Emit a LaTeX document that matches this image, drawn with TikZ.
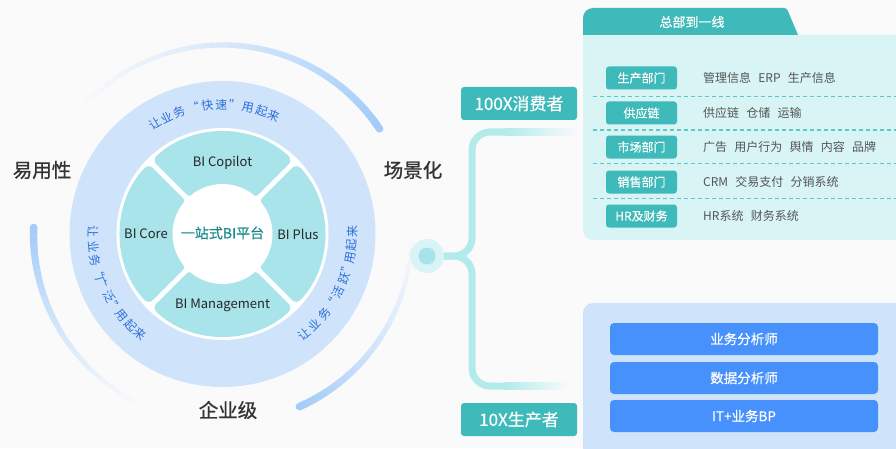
\documentclass[tikz,border=0pt]{standalone}
\usepackage{fontspec}
\setmainfont{Noto Sans CJK SC}
\newfontfamily\medfont[FakeBold=0.9]{Noto Sans CJK SC}
\newfontfamily\semifont[FakeBold=0.5]{Noto Sans CJK SC}
\definecolor{bg}{HTML}{FAFAFB}
\definecolor{ringblue}{HTML}{CFE4FB}
\definecolor{segcol}{HTML}{A8E4EA}
\definecolor{arcblue}{HTML}{A3CCF9}
\definecolor{txtblue}{HTML}{2B6FDB}
\definecolor{centtxt}{HTML}{17898A}
\definecolor{darktxt}{HTML}{333333}
\definecolor{tealbox}{HTML}{3DBAB9}
\definecolor{bodycyan}{HTML}{D8F4F5}
\definecolor{btnblue}{HTML}{4791FC}
\definecolor{dashcol}{HTML}{5CC9C9}
\definecolor{desctxt}{HTML}{555555}
\definecolor{brk}{HTML}{B3EBEB}
\definecolor{halo}{HTML}{D9F4F6}
\definecolor{dotcol}{HTML}{A9E3EA}
\newcommand\myarctext[3]{%
  \foreach \ch/\an in {#3}{%
    \node[curv, rotate=\an#2] at (\an:#1pt) {\ch};}}
\begin{document}
\begin{tikzpicture}[x=1pt,y=1pt,
  curv/.style={font=\fontsize{12}{12}\selectfont, text=txtblue, inner sep=0pt, anchor=center, text height=10pt, text depth=1.5pt},
  biglab/.style={font=\fontsize{19.5}{20}\selectfont\medfont, text=darktxt, inner sep=0pt},
  seglab/.style={font=\fontsize{13}{14}\selectfont, text=black!85, inner sep=0pt},
  tealbtn/.style={fill=tealbox, text=white, rounded corners=3pt, inner sep=0pt, minimum width=116pt, minimum height=33pt, font=\fontsize{17}{17}\selectfont\semifont},
  rowlab/.style={fill=tealbox, text=white, rounded corners=3pt, inner sep=0pt, minimum width=71pt, minimum height=23pt, font=\fontsize{12}{12}\selectfont\semifont},
  desc/.style={text=desctxt, inner sep=0pt, anchor=west, font=\fontsize{12}{12}\selectfont},
  bluebtn/.style={fill=btnblue, text=white, rounded corners=4pt, inner sep=0pt, minimum width=268pt, minimum height=32pt, font=\fontsize{13.5}{14}\selectfont\semifont},
  sep/.style={dashcol, line width=1pt, dash pattern=on 4pt off 3pt}
]
\useasboundingbox (0,0) rectangle (896,448);
\fill[bg] (0,0) rectangle (896,448);
\coordinate (C) at (222.5,214);

% ---- fading outer arcs ----
\foreach \i in {0,...,39}{
  \pgfmathsetmacro\aa{148-\i*2.85}
  \pgfmathsetmacro\ab{\aa-3.1}
  \pgfmathsetmacro\p{100*(\i/39)^1.4}
  \pgfmathsetmacro\lw{3+4.5*\i/39}
  \draw[line width=\lw pt, arcblue!\p!bg] (C) ++(\aa:189pt) arc[start angle=\aa, end angle=\ab, radius=189pt];
}
\fill[arcblue] (C) ++(33.8:189pt) circle[radius=3.75pt];
\foreach \i in {0,...,39}{
  \pgfmathsetmacro\aa{178+\i*1.8}
  \pgfmathsetmacro\ab{\aa+2.1}
  \pgfmathsetmacro\p{100*(1-\i/39)^1.4}
  \pgfmathsetmacro\lw{7.5-4.5*\i/39}
  \draw[line width=\lw pt, arcblue!\p!bg] (C) ++(\aa:189pt) arc[start angle=\aa, end angle=\ab, radius=189pt];
}
\fill[arcblue] (C) ++(178:189pt) circle[radius=3.75pt];
\foreach \i in {0,...,39}{
  \pgfmathsetmacro\aa{-66+\i*1.75}
  \pgfmathsetmacro\ab{\aa+2.05}
  \pgfmathsetmacro\p{100*(1-\i/39)^1.4}
  \pgfmathsetmacro\lw{7.5-4.5*\i/39}
  \draw[line width=\lw pt, arcblue!\p!bg] (C) ++(\aa:189pt) arc[start angle=\aa, end angle=\ab, radius=189pt];
}
\fill[arcblue] (C) ++(-66:189pt) circle[radius=3.75pt];

% ---- rings ----
\fill[ringblue] (C) circle[radius=153pt];
\fill[white] (C) circle[radius=106pt];
\begin{scope}[shift={(C)}]
\foreach \c in {0,90,180,270}{
  \pgfmathsetmacro\oa{\c+45-1.4}
  \pgfmathsetmacro\ob{\c-45+1.4}
  \pgfmathsetmacro\ia{\c-45+3}
  \pgfmathsetmacro\ib{\c+45-3}
  \fill[segcol, rounded corners=6pt] (\oa:102pt) arc[start angle=\oa, end angle=\ob, radius=102pt] -- (\ia:48pt) arc[start angle=\ia, end angle=\ib, radius=48pt] -- cycle;
}
\fill[white] (0,0) circle[radius=50pt];
\myarctext{129}{-90}{让/121.6, 业/115.6, 务/109.7, “/103, 快/96.8, 速/90.5, ”/84.5, 用/78.7, 起/72.4, 来/66.4}
\myarctext{130}{+90}{让/179.1, 业/185.6, 务/191.6, “/197, 广/202, 泛/209, ”/214.5, 用/218.8, 起/224.8, 来/230.5}
\myarctext{130}{+90}{让/-50.9, 业/-44.7, 务/-38.2, “/-32.6, 活/-26.8, 跃/-19.8, ”/-14.5, 用/-10.5, 起/-4.8, 来/1.0}
\end{scope}

\node[seglab] (copilot) at (222.5,285) {BI Copilot};
\node[seglab] (core) at (146,214) {BI Core};
\node[seglab] (plus) at (298,214) {BI Plus};
\node[seglab] (mgmt) at (222.5,143) {BI Management};
\node[font=\fontsize{14}{14}\selectfont\semifont, text=centtxt, inner sep=0pt] (center) at (222.5,215) {一站式BI平台};

\node[biglab] (easy) at (42,278) {易用性};
\node[biglab] (scene) at (413,278) {场景化};
\node[biglab] (ent) at (228,38) {企业级};

% ---- bracket ----
\coordinate (j) at (440,192);
\coordinate (up) at (506,316);
\coordinate (dn) at (506,62);
\draw[brk, line width=7pt, rounded corners=18pt] (j) -- (472,192) -- (472,316) -- (up);
\draw[brk, line width=7pt, rounded corners=18pt] (j) -- (472,192) -- (472,62) -- (dn);
\shade[left color=brk, right color=bg] (505,312.5) rectangle (578,319.5);
\shade[left color=brk, right color=bg] (505,58.5) rectangle (568,65.5);
\node[circle, fill=halo, minimum size=34pt, inner sep=0pt] (hub) at (427,192) {};
\fill[dotcol] (hub.center) circle[radius=8.5pt];

\node[tealbtn] (consumer) at (519,344.5) {100X消费者};
\node[tealbtn] (producer) at (519,28.5) {10X生产者};

% ---- top-right panel ----
\fill[bodycyan] (583,413) -- (900,413) -- (900,208) -- (593,208) arc[start angle=270, end angle=180, radius=10pt] -- cycle;
\fill[tealbox] (583,413) -- (583,430) arc[start angle=180, end angle=90, radius=10pt] -- (784,440) arc[start angle=90, end angle=21, radius=4pt] -- (798,413) -- cycle;
\node[font=\fontsize{13}{13}\selectfont\semifont, text=white, inner sep=0pt] (tab) at (692,426) {总部到一线};

\node[rowlab] (r1) at (641.5,370) {生产部门};
\node[rowlab] (r2) at (641.5,335) {供应链};
\node[rowlab] (r3) at (641.5,301) {市场部门};
\node[rowlab] (r4) at (641.5,266) {销售部门};
\node[rowlab] (r5) at (641.5,232) {HR及财务};
\node[desc] (d1) at (703,370) {管理信息\hspace{0.6em}ERP\hspace{0.6em}生产信息};
\node[desc] (d2) at (703,335) {供应链\hspace{0.6em}仓储\hspace{0.6em}运输};
\node[desc] (d3) at (703,301) {广告\hspace{0.6em}用户行为\hspace{0.6em}舆情\hspace{0.6em}内容\hspace{0.6em}品牌};
\node[desc] (d4) at (703,266) {CRM\hspace{0.6em}交易支付\hspace{0.6em}分销系统};
\node[desc] (d5) at (703,232) {HR系统\hspace{0.6em}财务系统};
\draw[sep] (593,351) -- (896,351);
\draw[sep] (593,318) -- (896,318);
\draw[sep] (593,285) -- (896,285);
\draw[sep] (593,250) -- (896,250);

% ---- bottom-right panel ----
\fill[ringblue] (583,-5) -- (583,135) arc[start angle=180, end angle=90, radius=10pt] -- (900,145) -- (900,-5) -- cycle;
\node[bluebtn] (b1) at (744,109) {业务分析师};
\node[bluebtn] (b2) at (744,70) {数据分析师};
\node[bluebtn] (b3) at (744,32) {IT+业务BP};
\end{tikzpicture}
\end{document}
